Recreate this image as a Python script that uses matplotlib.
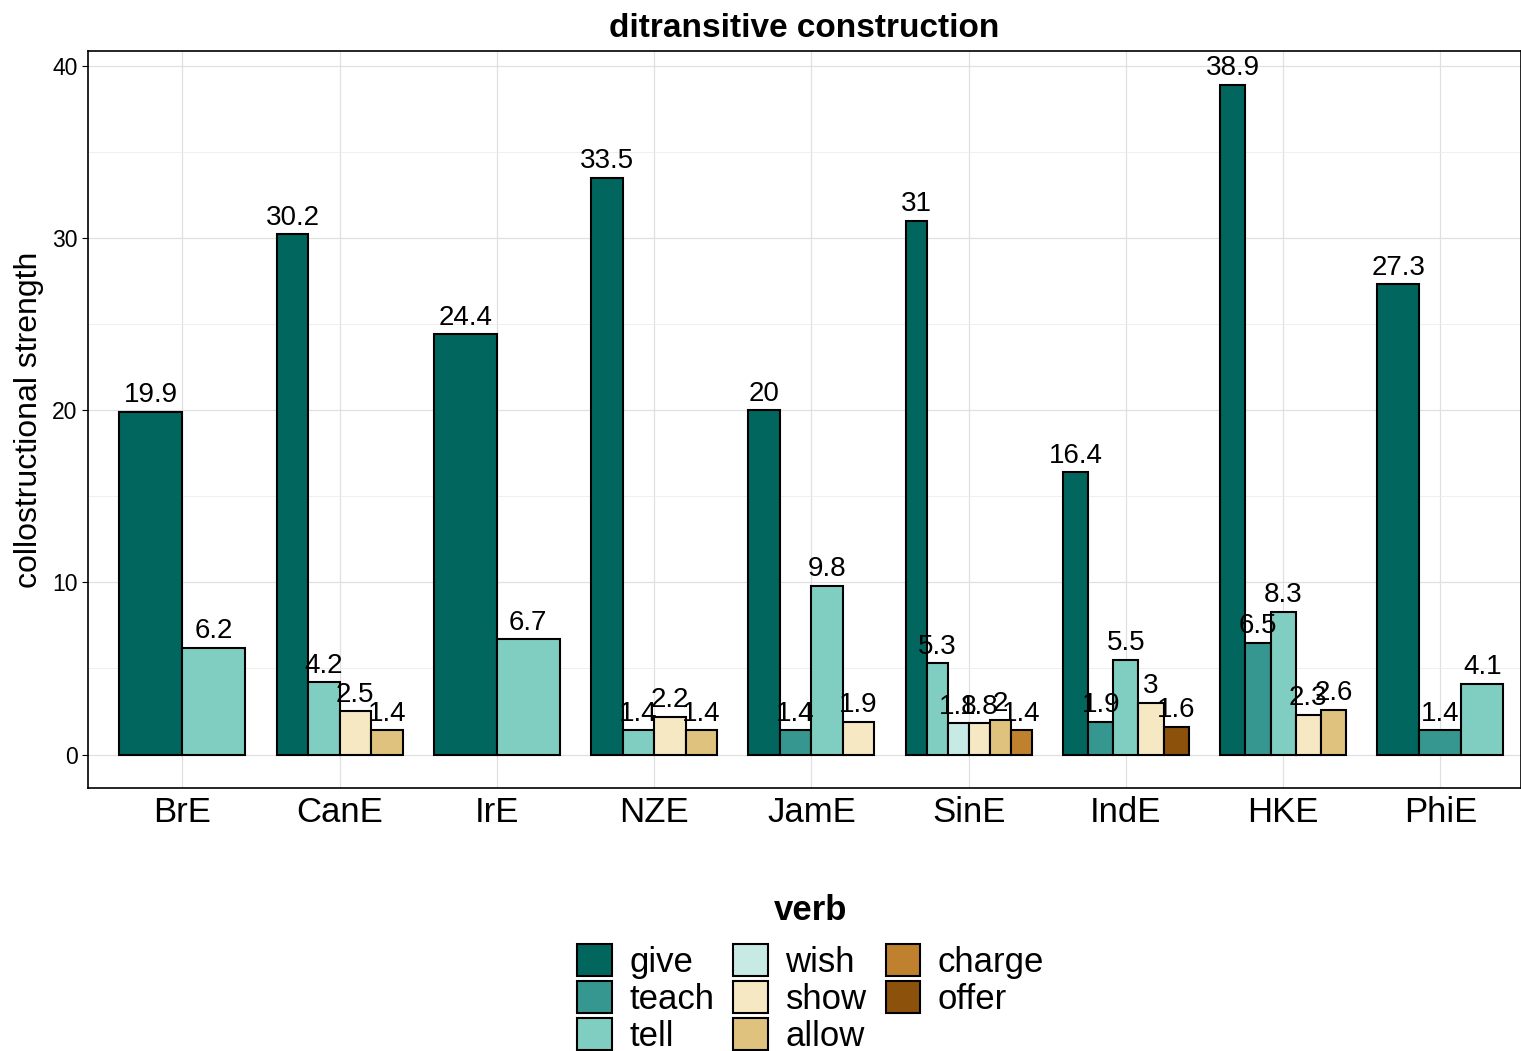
import matplotlib
matplotlib.use('Agg')
import matplotlib.pyplot as plt
from matplotlib.patches import Patch

plt.rcParams['font.family'] = ['Liberation Sans', 'DejaVu Sans']

varieties = ['BrE', 'CanE', 'IrE', 'NZE', 'JamE', 'SinE', 'IndE', 'HKE', 'PhiE']
verbs = ['give', 'teach', 'tell', 'wish', 'show', 'allow', 'charge', 'offer']
colors = ['#01665E', '#35978F', '#80CDC1', '#C7EAE5',
          '#F6E8C3', '#DFC27D', '#BF812D', '#8C510A']

# strength per variety, only verbs that occur
bre = {'give': 19.9, 'tell': 6.2}
cane = {'give': 30.2, 'tell': 4.2, 'show': 2.5, 'allow': 1.4}
ire = {'give': 24.4, 'tell': 6.7}
nze = {'give': 33.5, 'tell': 1.4, 'show': 2.2, 'allow': 1.4}
jame = {'give': 20, 'teach': 1.4, 'tell': 9.8, 'show': 1.9}
sine = {'give': 31, 'tell': 5.3, 'wish': 1.8, 'show': 1.8, 'allow': 2, 'charge': 1.4}
inde = {'give': 16.4, 'teach': 1.9, 'tell': 5.5, 'show': 3, 'offer': 1.6}
hke = {'give': 38.9, 'teach': 6.5, 'tell': 8.3, 'show': 2.3, 'allow': 2.6}
phie = {'give': 27.3, 'teach': 1.4, 'tell': 4.1}
values = [bre, cane, ire, nze, jame, sine, inde, hke, phie]

fig = plt.figure(figsize=(15.21, 10.51), dpi=100)
ax = fig.add_axes([88 / 1521, 1 - 788 / 1051, (1521 - 88) / 1521, (788 - 51) / 1051])

group_w = 0.8
for i, d in enumerate(values):
    present = [v for v in verbs if v in d]
    n = len(present)
    w = group_w / n
    for j, v in enumerate(present):
        x = (i + 1) - group_w / 2 + w * (j + 0.5)
        ax.bar(x, d[v], width=w, color=colors[verbs.index(v)],
               edgecolor='black', linewidth=1.5, zorder=3)
        ax.text(x, d[v] + 0.2, f'{d[v]:g}', ha='center', va='bottom',
                fontsize=20, zorder=4)

ax.set_xlim(0.4, 0.4 + 1433 / 157.25)
ax.set_ylim(-1.945, 40.845)
ax.set_xticks(range(1, len(varieties) + 1))
ax.set_xticklabels(varieties, fontsize=25)
ax.set_yticks([0, 10, 20, 30, 40])
ax.set_yticks([5, 15, 25, 35], minor=True)
ax.tick_params(axis='y', labelsize=16.5, length=4)
ax.tick_params(axis='x', length=0, pad=6)
ax.tick_params(axis='y', which='minor', length=0)
ax.grid(True, which='major', color='#E0E0E0', linewidth=0.9, zorder=0)
ax.grid(True, which='minor', axis='y', color='#EDEDED', linewidth=0.6, zorder=0)
for s in ax.spines.values():
    s.set_linewidth(1.2)
ax.set_ylabel('collostructional strength', fontsize=23, labelpad=6)
ax.set_title('ditransitive construction', fontsize=24, fontweight='bold', pad=10)

# legend title drawn separately to get the gap above the keys
fig.text(0.533, 1 - 910 / 1051, 'verb', fontsize=25, fontweight='bold',
         ha='center', va='center')
handles = [Patch(facecolor=c, edgecolor='black', linewidth=1.5) for c in colors]
leg = fig.legend(handles, verbs, loc='upper center', bbox_to_anchor=(0.533, 1 - 923 / 1051),
                 ncol=3, frameon=False, fontsize=25,
                 handlelength=1.0, handleheight=1.05, handletextpad=0.5,
                 columnspacing=0.55, labelspacing=0.06, borderpad=0.1)

fig.savefig('out.png', dpi=100)
